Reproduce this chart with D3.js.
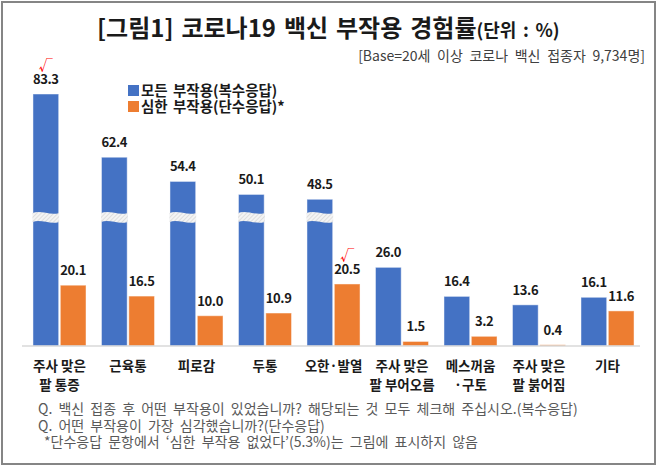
<!DOCTYPE html>
<html><head><meta charset="utf-8">
<script src="https://cdn.jsdelivr.net/npm/d3@7"></script>
<style>body{margin:0;background:#fff}svg{display:block;font-family:"Noto Sans CJK KR","Noto Sans",sans-serif}</style>
</head><body><svg id="c" width="658" height="467"></svg>
<script>
const categories = [["주사 맞은","팔 통증"],["근육통"],["피로감"],["두통"],["오한·발열"],["주사 맞은","팔 부어오름"],["메스꺼움","·구토"],["주사 맞은","팔 붉어짐"],["기타"]];
const seriesNames = ["모든 부작용(복수응답)","심한 부작용(단수응답)*"];
const allEffects = [83.3,62.4,54.4,50.1,48.5,26.0,16.4,13.6,16.1];
const severeEffects = [20.1,16.5,10.0,10.9,20.5,1.5,3.2,0.4,11.6];
const checked = [[0,0],[4,1]]; // [category index, series index]
const breakThreshold = 40;
const colors = ["#4472C4","#ED7D31"];

const svg = d3.select("#c");
const defs = svg.append("defs");
const pat = defs.append("pattern").attr("id","hatch").attr("patternUnits","userSpaceOnUse")
  .attr("width",3).attr("height",3).attr("patternTransform","rotate(45)");
pat.append("rect").attr("width",3).attr("height",3).attr("fill","#f4f4f4");
pat.append("line").attr("x1",0).attr("y1",0).attr("x2",0).attr("y2",3).attr("stroke","#d0d0d0").attr("stroke-width",1.2);

svg.append("rect").attr("x",2).attr("y",2).attr("width",653).attr("height",462)
  .attr("fill","#fff").attr("stroke","#858585").attr("stroke-width",2);

// title
const t = svg.append("text").attr("x",97).attr("y",37).attr("fill","#1a1a1a").attr("font-weight","bold")
  .attr("word-spacing",2.5);
t.append("tspan").attr("font-size",24).text("[그림1] 코로나19 백신 부작용 경험률");
t.append("tspan").attr("font-size",18).text("(단위 : %)");
svg.append("text").attr("x",645).attr("y",61).attr("text-anchor","end").attr("font-size",14)
  .attr("word-spacing",3.5).attr("fill","#404040").text("[Base=20세 이상 코로나 백신 접종자 9,734명]");

const x0 = d3.scaleBand().domain(d3.range(categories.length)).range([17.5,649.5]).paddingInner(0.226).paddingOuter(0.226);
const x1 = d3.scaleBand().domain([0,1]).range([0,x0.bandwidth()]).paddingInner(0.06);
const y = d3.scaleLinear().domain([0,100]).range([346,43.5]);

const data = categories.map((c,i)=>({c,i,vals:[allEffects[i],severeEffects[i]]}));
const g = svg.selectAll("g.grp").data(data).join("g").attr("class","grp")
  .attr("transform",d=>`translate(${x0(d.i)},0)`);

g.selectAll("rect").data(d=>d.vals.map((v,s)=>({v,s}))).join("rect")
  .attr("x",d=>x1(d.s)).attr("width",x1.bandwidth())
  .attr("y",d=>y(d.v)).attr("height",d=>y(0)-y(d.v))
  .attr("fill",d=>colors[d.s]).attr("stroke","#ffffff").attr("stroke-opacity",0.45).attr("stroke-width",1);

// break marks
g.filter(d=>d.vals[0]>breakThreshold).append("path")
  .attr("d",()=>{const a=x1(0)-0.5,w=x1.bandwidth()+1,yt=y(44),h=9;
    return `M${a},${yt} C${a+w/3},${yt-3} ${a+2*w/3},${yt+3} ${a+w},${yt} L${a+w},${yt+h} C${a+2*w/3},${yt+h+3} ${a+w/3},${yt+h-3} ${a},${yt+h} Z`;})
  .attr("fill","url(#hatch)");

g.selectAll("text.val").data(d=>d.vals.map((v,s)=>({v,s}))).join("text").attr("class","val")
  .attr("x",d=>x1(d.s)+x1.bandwidth()/2).attr("y",d=>y(d.v)-10)
  .attr("text-anchor","middle").attr("font-size",13).attr("font-weight","bold").attr("fill","#1a1a1a")
  .attr("letter-spacing",-0.4).text(d=>d.v.toFixed(1));

checked.forEach(([ci,s])=>{
  svg.append("text").attr("x",x0(ci)+x1(s)+x1.bandwidth()/2).attr("y",y(data[ci].vals[s])-24)
    .attr("text-anchor","middle").attr("font-size",14).attr("fill","#ff0000").text("√");
});

// baseline
svg.append("line").attr("x1",22).attr("x2",640).attr("y1",y(0)).attr("y2",y(0)).attr("stroke","#d9d9d9").attr("stroke-width",1.5);

// category labels
g.append("text").attr("x",x0.bandwidth()/2).attr("text-anchor","middle").attr("font-size",13.5)
  .attr("font-weight","bold").attr("fill","#1a1a1a")
  .selectAll("tspan").data(d=>d.c).join("tspan").attr("x",x0.bandwidth()/2)
  .attr("y",(d,k)=>371+k*19).text(d=>d);

// legend
const lg = svg.append("g").attr("transform","translate(128,85)");
seriesNames.forEach((n,k)=>{
  lg.append("rect").attr("x",0).attr("y",k*16).attr("width",11).attr("height",11).attr("fill",colors[k]);
  lg.append("text").attr("x",13).attr("y",k*16+10.5).attr("font-size",14.5).attr("font-weight","bold")
    .attr("word-spacing",2).attr("fill","#1a1a1a").text(n);
});

// notes
const notes = ["Q. 백신 접종 후 어떤 부작용이 있었습니까? 해당되는 것 모두 체크해 주십시오.(복수응답)",
  "Q. 어떤 부작용이 가장 심각했습니까?(단수응답)",
  "*단수응답 문항에서 ‘심한 부작용 없었다’(5.3%)는 그림에 표시하지 않음"];
const noteX = [38,38,44];
notes.forEach((n,k)=>{
  svg.append("text").attr("x",noteX[k]).attr("y",414+k*16.5).attr("font-size",14).attr("fill","#595959")
    .attr("word-spacing",3).text(n);
});
</script></body></html>
